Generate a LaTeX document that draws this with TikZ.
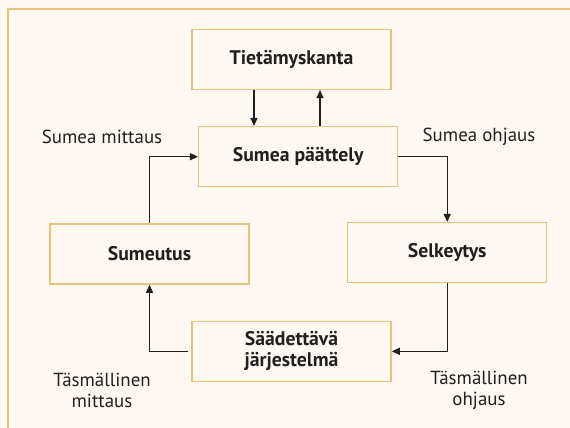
\documentclass[tikz,border=0pt]{standalone}
\usepackage{fontspec}
\setmainfont{PT Sans}
\usetikzlibrary{arrows.meta}
\definecolor{kehys}{HTML}{E9C27A}
\definecolor{tausta}{HTML}{FDF8F1}
\definecolor{viiva}{HTML}{231F20}
\tikzset{
  laatikko/.style={draw=kehys, line width=1.5pt, minimum width=199pt,
    minimum height=60pt, inner sep=0pt, align=center, text=viiva,
    font=\bfseries\fontsize{19.7}{21}\selectfont},
  selite/.style={align=center, text=viiva, font=\fontsize{18.9}{21}\selectfont},
  nuoli/.style={draw=viiva, line width=1.3pt, -{Triangle[length=8pt,width=7pt]}}
}
\begin{document}
\begin{tikzpicture}[x=1pt,y=-1pt]
\fill[tausta] (0,0) rectangle (570,428);
\useasboundingbox (0,0) rectangle (570,428);
\draw[kehys, line width=1.5pt] (8,428) -- (8,9) -- (570,9);
% laatikot
\node[laatikko] (tk) at (291.5,59.3) {Tietämyskanta};
\node[laatikko] (sp) at (298.2,156.7) {Sumea päättely};
\node[laatikko] (su) at (149.5,254) {Sumeutus};
\node[laatikko] (se) at (447.2,252.7) {Selkeytys};
\node[laatikko] (sj) at (291.5,351.3) {Säädettävä\\järjestelmä};
% selitteet
\node[selite] (sm) at (102,136.7) {Sumea mittaus};
\node[selite] (so) at (479,136.7) {Sumea ohjaus};
\node[selite] (tm) at (102,390.5) {Täsmällinen\\mittaus};
\node[selite] (to) at (479,390.5) {Täsmällinen\\ohjaus};
% nuolet
\coordinate (alas) at (254,0);
\coordinate (ylos) at (320,0);
\draw[nuoli] (tk.south -| alas) -- (sp.north -| alas);
\draw[nuoli] (sp.north -| ylos) -- (tk.south -| ylos);
\draw[nuoli] (su.north) |- (sp.west);
\draw[nuoli] (sp.east) -| (se.north);
\draw[nuoli] (se.south) |- (sj.east);
\draw[nuoli] ([xshift=-3pt]sj.west) -| (su.south);
\end{tikzpicture}
\end{document}
